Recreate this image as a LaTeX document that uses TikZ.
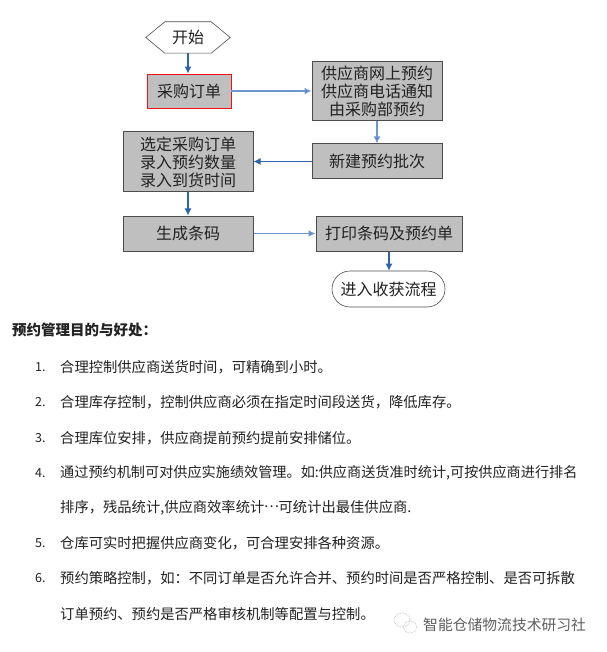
\documentclass[tikz,border=0pt]{standalone}
\usepackage{fontspec}
\setmainfont{Noto Sans CJK SC}
\usetikzlibrary{arrows.meta,shapes.misc}
\definecolor{boxfill}{HTML}{BFBFBF}
\definecolor{boxline}{HTML}{4D4D4D}
\definecolor{redline}{HTML}{F01010}
\definecolor{arrdark}{HTML}{2F62AE}
\definecolor{arrlight}{HTML}{6E97D0}
\definecolor{txt}{HTML}{222222}
\tikzset{
  x=1pt,y=-1pt,
  procbox/.style={draw=boxline,fill=boxfill,line width=1pt,inner sep=0pt,text=txt,align=center,font=\fontsize{16}{18}\selectfont},
  redbox/.style={procbox,draw=redline,line width=.8pt},
  arrowdark/.style={draw=arrdark,line width=1.1pt,-{Latex[length=7pt,width=7pt,fill=arrdark]}},
  arrowlight/.style={draw=arrlight,line width=1.5pt,-{Latex[length=7pt,width=7pt,fill=arrdark]}},
  listnum/.style={anchor=west,inner sep=0pt,text=txt,font=\fontsize{12.5}{14}\selectfont},
  listtext/.style={anchor=west,inner sep=0pt,text=txt,font=\fontsize{14.3}{16}\selectfont},
}
\begin{document}
\begin{tikzpicture}
\useasboundingbox (0,0) rectangle (606,652);
\fill[white] (0,0) rectangle (606,652);
% flow nodes
\node[inner sep=0pt,minimum width=84pt,minimum height=31pt,text=txt,font=\fontsize{16}{18}\selectfont] (start) at (188,37.5) {开始};
\draw[boxline,line width=.6pt] (start.west) -- ([xshift=19pt]start.north west) -- ([xshift=-19pt]start.north east) -- (start.east) -- ([xshift=-19pt]start.south east) -- ([xshift=19pt]start.south west) -- cycle;
\node[redbox,minimum width=84pt,minimum height=34pt] (po) at (189,91) {采购订单};
\node[procbox,minimum width=130pt,minimum height=59pt] (sup) at (377,91.5) {供应商网上预约\\供应商电话通知\\由采购部预约};
\node[procbox,minimum width=130pt,minimum height=35pt] (batch) at (377,161.5) {新建预约批次};
\node[procbox,minimum width=130pt,minimum height=60pt] (sel) at (188,162) {选定采购订单\\录入预约数量\\录入到货时间};
\node[procbox,minimum width=130pt,minimum height=35pt] (code) at (188,233.5) {生成条码};
\node[procbox,minimum width=146pt,minimum height=35pt] (print) at (389,233.5) {打印条码及预约单};
\node[draw=boxline,line width=.6pt,fill=white,rounded rectangle,inner sep=0pt,minimum width=113pt,minimum height=36pt,text=txt,font=\fontsize{16}{18}\selectfont] (recv) at (388.5,289) {进入收获流程};
% connectors
\draw[arrowdark] (start.south) -- (start.south |- po.north);
\draw[arrowlight] (po.east) -- (sup.west |- po.east);
\draw[arrowlight] (sup.south) -- (batch.north);
\draw[arrowdark] (batch.west) -- (sel.east |- batch.west);
\draw[arrowdark] (sel.south) -- (code.north);
\draw[arrowlight] (code.east) -- (print.west);
\draw[arrowdark] (print.south) -- (print.south |- recv.north);
% text
\node[anchor=west,inner sep=0pt,text=txt,font=\fontsize{14.5}{16}\selectfont\bfseries] (title) at (12,330) {预约管理目的与好处：};
\node[listnum] (n1) at (35,367) {1.};
\node[listtext] (t1) at (60,367) {合理控制供应商送货时间，可精确到小时。};
\node[listnum] (n2) at (35,402) {2.};
\node[listtext] (t2) at (60,402) {合理库存控制，控制供应商必须在指定时间段送货，降低库存。};
\node[listnum] (n3) at (35,438) {3.};
\node[listtext] (t3) at (60,438) {合理库位安排，供应商提前预约提前安排储位。};
\node[listnum] (n4) at (35,473) {4.};
\node[listtext,font=\fontsize{14.15}{16}\selectfont] (t4) at (60,473) {通过预约机制可对供应实施绩效管理。如:供应商送货准时统计,可按供应商进行排名};
\node[listtext] (t4b) at (60,508) {排序，残品统计,供应商效率统计\makebox[1em]{\raisebox{.33em}{…}}可统计出最佳供应商.};
\node[listnum] (n5) at (35,543) {5.};
\node[listtext] (t5) at (60,543) {仓库可实时把握供应商变化，可合理安排各种资源。};
\node[listnum] (n6) at (35,578) {6.};
\node[listtext] (t6) at (60,578) {预约策略控制，如：不同订单是否允许合并、预约时间是否严格控制、是否可拆散};
\node[listtext] (t6b) at (60,614) {订单预约、预约是否严格审核机制等配置与控制。};
% watermark
\draw[gray!60,line width=.6pt,densely dotted] (402,620) ellipse (8pt and 7pt);
\draw[gray!60,line width=.6pt,densely dotted] (410,627) ellipse (6.5pt and 6pt);
\node[anchor=west,inner sep=0pt,text=gray!75!black,font=\fontsize{14.8}{17}\selectfont] (wm) at (423,624.5) {智能仓储物流技术研习社};
\end{tikzpicture}
\end{document}
